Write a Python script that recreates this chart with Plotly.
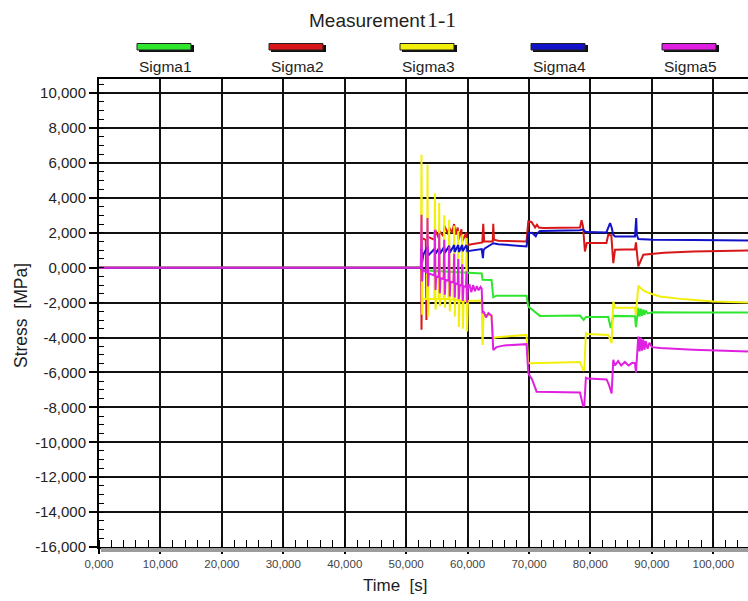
import plotly.graph_objects as go

# ---------------- series (time in s, stress in MPa) ----------------
names = ["Sigma1", "Sigma2", "Sigma3", "Sigma4", "Sigma5"]
colors = ["#2ee62e", "#d81818", "#f2ef0a", "#1212c8", "#e020e0"]

sigma1_t = [0, 52.4, 52.5, 59.8, 62.3, 62.44, 63.9, 64.18, 64.7, 69.6, 69.88, 71.78,
            78.3, 78.9, 79.3, 82.9, 83.3, 83.72, 87.25, 87.41, 87.79, 88.0, 88.2, 88.4,
            88.6, 88.8, 89.0, 89.3, 90.2, 96.0, 105.65]
sigma1_v = [0, 0, -0.15, -0.3, -0.33, -0.69, -0.7, -1.69, -1.6, -1.61, -2.22, -2.76,
            -2.74, -2.99, -2.82, -2.82, -3.45, -2.76, -2.78, -3.4, -2.3, -2.8, -2.35, -2.75,
            -2.4, -2.7, -2.45, -2.62, -2.55, -2.56, -2.57]

sigma2_t = [0, 52.4, 52.45, 52.5, 52.6, 53.2, 53.3, 53.4, 54.0, 54.6, 54.7, 55.3, 55.4,
            56.1, 56.2, 56.9, 57.0, 57.5, 57.8, 58.1, 58.4, 58.5, 59.0, 59.1, 59.8, 59.9,
            62.4, 62.55, 62.7, 64.1, 64.18, 64.3, 65.0, 69.6, 69.88, 70.4, 71.0, 71.3,
            71.6, 72.3, 78.3, 78.56, 78.8, 79.1, 79.4, 82.6, 82.9, 83.4, 83.72, 84.0,
            87.25, 87.41, 87.79, 88.6, 92.0, 96.75, 105.65]
sigma2_v = [0, 0, 2.0, -3.56, 1.7, 1.6, -2.99, 1.8, 1.7, 1.6, 2.2, 1.7, 2.1,
            1.8, 2.4, 1.9, 2.3, 2.0, 2.5, 1.9, 2.3, 1.6, 2.2, 1.5, 2.0, 1.3,
            1.45, 2.52, 1.5, 1.5, 2.52, 1.6, 1.55, 1.5, 2.65, 2.62, 2.3, 2.46,
            2.3, 2.28, 2.3, 2.72, 2.35, 0.93, 1.41, 1.41, 1.89, 1.85, 0.26, 1.03,
            1.05, 1.45, 0.07, 0.74, 0.85, 0.93, 0.99]

sigma3_t = [0, 52.4, 52.5, 52.6, 52.7, 53.4, 53.48, 53.58, 53.7, 54.6, 54.68, 54.78,
            54.9, 55.3, 55.38, 55.48, 55.6, 56.1, 56.2, 56.3, 56.4, 56.9, 57.0, 57.1,
            57.2, 57.7, 57.82, 57.92, 58.0, 58.4, 58.48, 58.58, 58.7, 59.05, 59.13,
            59.23, 59.35, 59.75, 59.83, 59.93, 60.05, 62.3, 62.44, 62.6, 63.9, 64.18,
            64.7, 69.6, 69.88, 70.3, 78.3, 78.83, 79.0, 79.26, 79.5, 82.9, 83.2, 83.45,
            83.72, 84.0, 87.25, 87.41, 87.79, 88.6, 89.5, 91.32, 95.0, 100.0, 105.65]
sigma3_v = [0, 0, 6.47, -2.7, -1.8, -1.8, 5.9, -2.8, -1.8, -1.8, 4.27, -2.4,
            -1.8, -1.8, 3.7, -2.2, -1.8, -1.8, 3.0, -2.3, -1.8, -1.8, 2.75, -2.5,
            -1.8, -1.85, 2.4, -2.8, -1.85, -1.85, 2.1, -3.4, -1.9, -1.9, 1.9,
            -3.5, -1.9, -1.9, 1.7, -3.66, -1.9, -1.88, -4.42, -2.7, -2.72, -4.04,
            -3.98, -3.85, -5.47, -5.47, -5.4, -5.85, -5.9, -3.75, -3.8, -3.85, -4.1, -4.32,
            -1.94, -2.3, -2.3, -2.7, -1.04, -1.3, -1.45, -1.65, -1.8, -1.94, -2.0]

sigma4_t = [0, 52.4, 52.5, 52.6, 52.8, 53.48, 53.6, 54.68, 54.8, 55.38, 55.5, 56.2,
            56.3, 57.0, 57.1, 57.82, 57.9, 58.48, 58.6, 59.13, 59.2, 59.83, 59.95, 62.3,
            62.5, 62.6, 62.8, 64.18, 65.0, 69.6, 69.88, 70.5, 71.1, 71.3, 71.8, 78.3,
            78.83, 79.1, 79.4, 82.6, 82.9, 83.2, 83.45, 83.72, 84.0, 87.25, 87.45, 87.55,
            87.79, 88.6, 90.23, 96.75, 105.65]
sigma4_v = [0, 0, 1.1, 0.3, 0.75, 1.2, 0.7, 1.1, 0.8, 1.15, 0.8, 1.2,
            0.85, 1.25, 0.85, 1.3, 0.9, 1.3, 0.9, 1.3, 0.95, 1.3, 0.95, 1.07,
            0.55, 1.0, 1.1, 1.4, 1.35, 1.22, 1.98, 2.0, 1.8, 1.95, 2.1, 2.15,
            2.2, 2.08, 2.04, 2.02, 2.3, 2.56, 2.3, 1.89, 1.79, 1.79, 2.84, 1.9,
            1.64, 1.62, 1.6, 1.58, 1.56]

sigma5_t = [0, 52.4, 52.5, 52.6, 52.7, 53.4, 53.48, 53.58, 53.7, 54.6, 54.68, 54.78,
            54.9, 55.3, 55.38, 55.48, 55.6, 56.1, 56.2, 56.3, 56.4, 56.9, 57.0, 57.1,
            57.2, 57.7, 57.82, 57.92, 58.0, 58.4, 58.48, 58.58, 58.7, 59.05, 59.13,
            59.23, 59.35, 59.75, 59.83, 59.93, 60.05, 60.3, 60.6, 60.9, 61.2, 61.5,
            61.8, 62.1, 62.3, 62.44, 62.6, 63.0, 63.4, 63.9, 64.18, 64.7, 66.0, 69.6,
            69.88, 70.5, 71.24, 78.3, 78.83, 79.0, 79.26, 79.6, 82.63, 83.0, 83.45,
            83.72, 84.0, 84.5, 85.0, 85.6, 86.2, 86.8, 87.25, 87.41, 87.79, 88.0, 88.2,
            88.4, 88.6, 88.8, 89.0, 89.3, 89.6, 90.0, 91.32, 96.75, 105.65]
sigma5_v = [0, 0, 3.03, -0.79, -0.1, -0.28, 2.84, -1.08, -0.32, -0.45, 2.17, -1.27,
            -0.5, -0.55, 1.98, -1.46, -0.6, -0.65, 1.6, -1.55, -0.7, -0.75, 1.22, -1.65,
            -0.8, -0.85, 0.8, -1.7, -0.9, -0.95, 0.5, -1.8, -1.0, -1.02, 0.2,
            -1.9, -1.05, -1.1, -0.2, -2.0, -1.15, -0.95, -1.4, -1.0, -1.35, -1.05,
            -1.3, -1.1, -1.2, -2.6, -2.5, -2.85, -2.6, -2.75, -4.71, -4.55, -4.45, -4.38,
            -6.05, -6.4, -7.1, -7.15, -7.96, -7.9, -6.3, -6.35, -6.4, -6.7, -7.2,
            -5.28, -5.6, -5.35, -5.6, -5.4, -5.6, -5.45, -5.47, -6.0, -3.94, -4.8, -4.0,
            -4.75, -4.1, -4.7, -4.2, -4.65, -4.3, -4.55, -4.6, -4.7, -4.8]

series_t = [sigma1_t, sigma2_t, sigma3_t, sigma4_t, sigma5_t]
series_v = [sigma1_v, sigma2_v, sigma3_v, sigma4_v, sigma5_v]

# ---------------- axis ticks (decimal comma, three places) ----------------
x_tickvals = [0, 10, 20, 30, 40, 50, 60, 70, 80, 90, 100]
x_ticktext = ["0,000", "10,000", "20,000", "30,000", "40,000", "50,000",
              "60,000", "70,000", "80,000", "90,000", "100,000"]
y_tickvals = [10, 8, 6, 4, 2, 0, -2, -4, -6, -8, -10, -12, -14, -16]
y_ticktext = ["10,000", "8,000", "6,000", "4,000", "2,000", "0,000", "-2,000",
              "-4,000", "-6,000", "-8,000", "-10,000", "-12,000", "-14,000", "-16,000"]

# ---------------- page geometry ----------------
W, H = 748, 601
ML, MR, MT, MB = 99, 0, 79, 54
FONT = "Liberation Sans, Arial, sans-serif"
SERIF = "Liberation Serif"


def px_x(px):
    return (px - ML) / (W - ML - MR)


def px_y(py):
    return (H - MB - py) / (H - MT - MB)


fig = go.Figure()
for name, color, t, v in zip(names, colors, series_t, series_v):
    fig.add_trace(go.Scatter(x=t, y=v, mode="lines", name=name,
                             line=dict(color=color, width=2),
                             showlegend=False))

# legend row: bar swatch with shadow and the name underneath
legend_cx = [165, 297, 428, 559, 690]
shapes = []
annotations = []
for name, color, cx in zip(names, colors, legend_cx):
    shapes.append(dict(type="rect", xref="paper", yref="paper",
                       x0=px_x(cx - 26), x1=px_x(cx + 29),
                       y0=px_y(52), y1=px_y(45),
                       fillcolor="#111111", line=dict(width=0), layer="above"))
    shapes.append(dict(type="rect", xref="paper", yref="paper",
                       x0=px_x(cx - 28), x1=px_x(cx + 26),
                       y0=px_y(50), y1=px_y(43.5),
                       fillcolor=color, line=dict(color="#222222", width=1),
                       layer="above"))
    annotations.append(dict(text=name, xref="paper", yref="paper",
                            x=px_x(cx), y=px_y(66), xanchor="center",
                            yanchor="middle", showarrow=False,
                            font=dict(family=FONT, size=15.5, color="#1e1e1e")))

# grey relief band beneath the time axis
shapes.append(dict(type="rect", xref="paper", yref="paper",
                   x0=px_x(101), x1=1.02, y0=px_y(552), y1=px_y(548),
                   fillcolor="#9c9c9c", line=dict(width=0), layer="above"))

# chart title: sans-serif word followed by a serif run number
annotations.append(dict(text="Measurement", xref="paper", yref="paper",
                        x=px_x(428), y=px_y(20), xanchor="right", yanchor="middle",
                        showarrow=False,
                        font=dict(family=FONT, size=19, color="#1e1e1e")))
annotations.append(dict(text="1-1", xref="paper", yref="paper",
                        x=px_x(425), y=px_y(19.5), xanchor="left", yanchor="middle",
                        showarrow=False,
                        font=dict(family=SERIF, size=22, color="#1e1e1e")))

annotations.append(dict(text="Time\u00a0\u00a0[s]", xref="paper", yref="paper",
                        x=px_x(395), y=px_y(585), xanchor="center", yanchor="middle",
                        showarrow=False,
                        font=dict(family=FONT, size=17, color="#1e1e1e")))
annotations.append(dict(text="Stress\u00a0\u00a0[MPa]", xref="paper", yref="paper",
                        x=px_x(21), y=px_y(316), xanchor="center", yanchor="middle",
                        textangle=-90, showarrow=False,
                        font=dict(family=FONT, size=17.5, color="#1e1e1e")))

fig.update_layout(
    width=W, height=H,
    margin=dict(l=ML, r=MR, t=MT, b=MB, pad=0),
    paper_bgcolor="white", plot_bgcolor="white",
    shapes=shapes,
    annotations=annotations,
    xaxis=dict(range=[0, 105.65], tickvals=x_tickvals, ticktext=x_ticktext,
               showgrid=True, gridcolor="#111111", gridwidth=1.5, zeroline=False,
               showline=True, linecolor="#000000", linewidth=2, mirror=True,
               ticks="outside", ticklen=5, tickwidth=1.5, tickcolor="#000000",
               tickfont=dict(family=FONT, size=11.5, color="#444444"),
               minor=dict(ticks="inside", ticklen=7, tickwidth=1.3,
                          tickcolor="#000000", dtick=2, tick0=0, showgrid=False)),
    yaxis=dict(range=[-16, 10.81], tickvals=y_tickvals, ticktext=y_ticktext,
               showgrid=True, gridcolor="#111111", gridwidth=1.5, zeroline=False,
               showline=True, linecolor="#000000", linewidth=2, mirror=False,
               ticks="outside", ticklen=8, tickwidth=1.5, tickcolor="#000000",
               tickfont=dict(family=FONT, size=15, color="#222222"),
               minor=dict(ticks="inside", ticklen=5, tickwidth=1.2,
                          tickcolor="#000000", dtick=0.5, tick0=0, showgrid=False)),
)

fig.write_html("out.html")
